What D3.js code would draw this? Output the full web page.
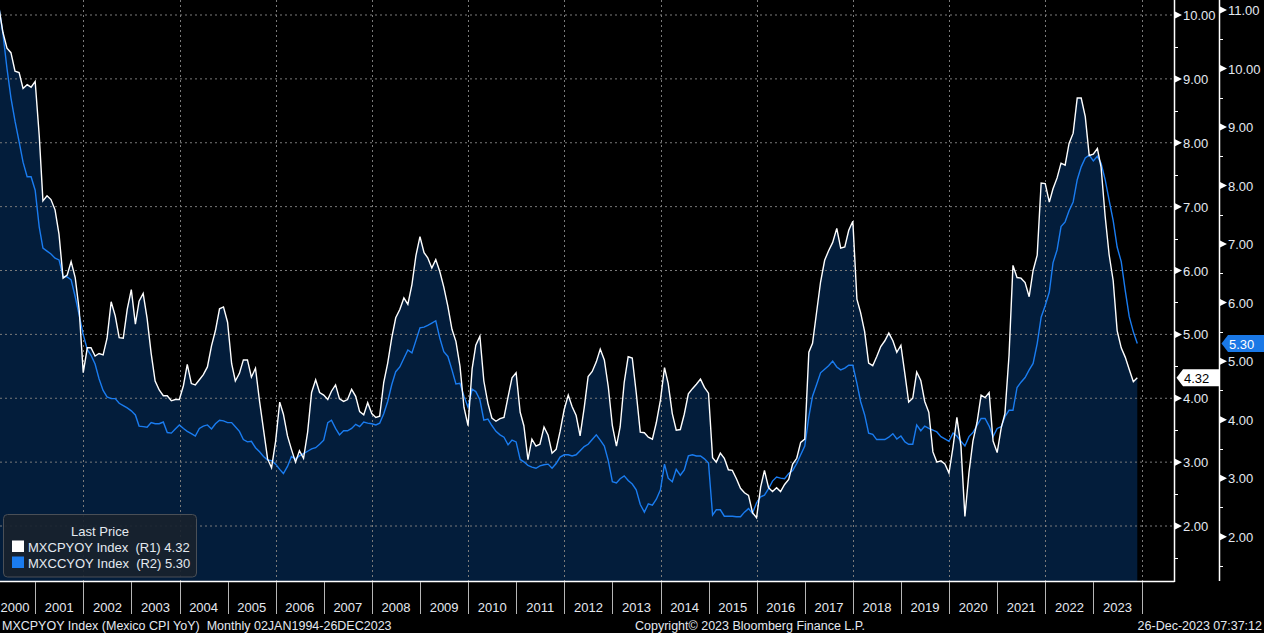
<!DOCTYPE html>
<html>
<head>
<meta charset="utf-8">
<script src="https://cdn.jsdelivr.net/npm/d3@7"></script>
<style>
  html, body { margin: 0; padding: 0; background: #000; overflow: hidden; }
  svg { display: block; }
  text { font-family: "Liberation Sans", Arial, sans-serif; }
</style>
</head>
<body>
<div id="chart"></div>
<script>
// Mexico CPI YoY (R1, white) and core CPI YoY (R2, blue), monthly Jan 2000 - Nov 2023
var startYear = 2000;
var headline = [
  11.02,10.52,10.11,9.73,9.48,9.41,9.12,9.10,8.85,8.91,8.87,8.96,
  8.11,7.09,7.17,7.11,6.95,6.57,5.88,5.93,6.14,5.89,5.39,4.40,
  4.79,4.79,4.66,4.70,4.68,4.94,5.51,5.29,4.95,4.94,5.39,5.70,
  5.16,5.52,5.64,5.25,4.70,4.27,4.13,4.04,4.04,3.96,3.98,3.98,
  4.20,4.53,4.23,4.21,4.29,4.37,4.49,4.82,5.06,5.40,5.43,5.19,
  4.54,4.27,4.39,4.60,4.60,4.33,4.47,3.95,3.51,3.05,2.91,3.33,
  3.94,3.75,3.41,3.20,3.00,3.18,3.06,3.47,4.09,4.29,4.09,4.05,
  3.98,4.11,4.21,3.99,3.95,3.98,4.14,4.03,3.79,3.74,3.93,3.76,
  3.70,3.72,4.25,4.55,4.95,5.26,5.39,5.57,5.47,5.78,6.23,6.53,
  6.28,6.20,6.04,6.17,5.98,5.74,5.44,5.08,4.89,4.50,3.86,3.57,
  4.46,4.83,4.97,4.27,3.92,3.69,3.64,3.68,3.70,4.02,4.32,4.40,
  3.78,3.57,3.04,3.36,3.25,3.28,3.55,3.42,3.14,3.20,3.48,3.82,
  4.05,3.87,3.73,3.41,3.85,4.34,4.42,4.57,4.77,4.60,4.18,3.57,
  3.25,3.55,4.25,4.65,4.63,4.09,3.47,3.46,3.39,3.36,3.62,3.97,
  4.48,4.23,3.76,3.50,3.51,3.75,4.07,4.15,4.22,4.30,4.17,4.08,
  3.07,3.00,3.14,3.06,2.88,2.87,2.74,2.59,2.52,2.48,2.21,2.13,
  2.61,2.87,2.60,2.54,2.60,2.54,2.65,2.73,2.97,3.06,3.31,3.36,
  4.72,4.86,5.35,5.82,6.16,6.31,6.44,6.66,6.35,6.37,6.63,6.77,
  5.55,5.34,5.04,4.55,4.51,4.65,4.81,4.90,5.02,4.90,4.72,4.83,
  4.37,3.94,4.00,4.41,4.28,3.95,3.78,3.16,3.00,3.02,2.97,2.83,
  3.24,3.70,3.25,2.15,2.84,3.33,3.62,4.05,4.01,4.09,3.33,3.15,
  3.54,3.76,4.67,6.08,5.89,5.88,5.81,5.59,6.00,6.24,7.37,7.36,
  7.07,7.28,7.45,7.68,7.65,7.99,8.15,8.70,8.70,8.41,7.80,7.82,
  7.91,7.62,6.85,6.25,5.84,5.06,4.79,4.64,4.45,4.26,4.32
];
var core = [
  11.70,11.35,11.05,10.60,10.00,9.50,9.10,8.75,8.40,8.15,8.15,7.92,
  7.29,6.93,6.88,6.83,6.76,6.73,6.45,6.44,6.39,6.10,5.79,5.45,
  5.20,5.10,4.95,4.70,4.50,4.39,4.36,4.36,4.28,4.24,4.20,4.15,
  4.08,3.89,3.88,3.87,3.95,3.93,3.93,3.96,3.78,3.77,3.84,3.91,
  3.85,3.80,3.76,3.72,3.85,3.89,3.91,3.84,3.93,3.99,3.98,3.95,
  3.95,3.88,3.80,3.66,3.62,3.63,3.52,3.45,3.37,3.31,3.30,3.24,
  3.15,3.08,3.20,3.37,3.33,3.38,3.42,3.46,3.50,3.52,3.58,3.65,
  3.95,3.99,3.85,3.74,3.81,3.81,3.85,3.92,3.88,3.96,3.94,3.93,
  3.91,3.94,4.10,4.31,4.60,4.82,4.90,5.05,5.19,5.14,5.35,5.57,
  5.58,5.61,5.65,5.69,5.39,5.16,5.08,4.85,4.61,4.62,4.40,4.21,
  4.52,4.48,4.34,3.99,4.01,3.90,3.80,3.74,3.70,3.57,3.65,3.62,
  3.32,3.28,3.22,3.19,3.17,3.21,3.23,3.24,3.17,3.25,3.36,3.40,
  3.40,3.38,3.40,3.47,3.54,3.58,3.66,3.74,3.65,3.55,3.30,2.94,
  2.92,2.99,3.04,2.96,2.90,2.80,2.55,2.42,2.56,2.54,2.64,2.80,
  3.24,3.00,2.94,3.15,3.05,3.14,3.38,3.40,3.38,3.38,3.33,3.26,
  2.37,2.46,2.46,2.35,2.35,2.35,2.34,2.34,2.42,2.48,2.40,2.58,
  2.68,2.71,2.82,2.95,3.02,3.00,2.99,3.08,3.13,3.25,3.40,3.55,
  4.05,4.40,4.60,4.80,4.86,4.92,5.00,4.90,4.85,4.88,4.93,4.93,
  4.62,4.31,4.08,3.77,3.75,3.66,3.66,3.66,3.70,3.76,3.67,3.72,
  3.62,3.58,3.58,3.91,3.81,3.89,3.85,3.82,3.79,3.71,3.67,3.63,
  3.77,3.72,3.63,3.55,3.71,3.78,3.90,4.02,4.02,3.89,3.71,3.85,
  3.88,4.05,4.16,4.16,4.55,4.64,4.72,4.85,4.96,5.30,5.75,5.95,
  6.18,6.68,6.90,7.30,7.38,7.57,7.72,8.10,8.32,8.47,8.52,8.42,
  8.50,8.38,8.10,7.75,7.40,6.95,6.70,6.20,5.76,5.50,5.30
];
var r1Ticks = [2, 3, 4, 5, 6, 7, 8, 9, 10];
var r2Ticks = [2, 3, 4, 5, 6, 7, 8, 9, 10, 11];
var yearLabels = d3.range(2000, 2024);
var legendRows = [
  { name: "MXCPYOY Index  (R1) 4.32", color: "#ffffff" },
  { name: "MXCCYOY Index  (R2) 5.30", color: "#1a7cf0" }
];

var width = 1264, height = 633;
var plotRight = 1174, plotBottom = 581, r2Axis = 1219;
var fillColor = "#031d3b", blueColor = "#1a7cf0", textColor = "#e4e9f0";

// monthly points are stamped at month end, like the terminal does
var months = headline.map(function (d, i) { return new Date(startYear, i + 1, 0); });

var x = d3.scaleTime()
    .domain([new Date(2000, 0, 1), new Date(2024, 0, 1)])
    .range([-12.9, 1141.5]);
var y1 = d3.scaleLinear().domain([2, 10]).range([526, 15]);
var y2 = d3.scaleLinear().domain([2, 11]).range([536.7, 10]);

var svg = d3.select("#chart").append("svg")
    .attr("width", width)
    .attr("height", height)
    .style("background", "#000");

svg.append("clipPath").attr("id", "plotclip")
  .append("rect").attr("x", 0).attr("y", 0).attr("width", plotRight).attr("height", plotBottom);

var plot = svg.append("g").attr("clip-path", "url(#plotclip)");

// area under the headline series
plot.append("path")
    .datum(headline)
    .attr("fill", fillColor)
    .attr("d", d3.area()
      .x(function (d, i) { return x(months[i]); })
      .y0(plotBottom)
      .y1(function (d) { return y1(d); }));

// dotted grid
plot.selectAll(".hgrid").data(r1Ticks).enter().append("line")
    .attr("x1", 0).attr("x2", plotRight)
    .attr("y1", function (d) { return y1(d); })
    .attr("y2", function (d) { return y1(d); })
    .attr("stroke", "#7a7a7a").attr("stroke-width", 1)
    .attr("stroke-dasharray", "2,3");

var gridYears = d3.range(2002, 2025, 2);
plot.selectAll(".vgrid").data(gridYears).enter().append("line")
    .attr("x1", function (d) { return Math.round(x(new Date(d, 0, 1))) + 0.5; })
    .attr("x2", function (d) { return Math.round(x(new Date(d, 0, 1))) + 0.5; })
    .attr("y1", 0).attr("y2", plotBottom)
    .attr("stroke", "#7a7a7a").attr("stroke-width", 1)
    .attr("stroke-dasharray", "2,3");

// series lines
plot.append("path")
    .datum(core)
    .attr("fill", "none")
    .attr("stroke", blueColor)
    .attr("stroke-width", 1.4)
    .attr("d", d3.line()
      .x(function (d, i) { return x(months[i]); })
      .y(function (d) { return y2(d); }));

plot.append("path")
    .datum(headline)
    .attr("fill", "none")
    .attr("stroke", "#ffffff")
    .attr("stroke-width", 1.4)
    .attr("d", d3.line()
      .x(function (d, i) { return x(months[i]); })
      .y(function (d) { return y1(d); }));

// frame: bottom line and the two right axes
svg.append("line").attr("x1", 0).attr("x2", plotRight + 0.5)
    .attr("y1", plotBottom + 0.5).attr("y2", plotBottom + 0.5)
    .attr("stroke", "#fff").attr("stroke-width", 1.5);
svg.append("line").attr("x1", plotRight + 0.5).attr("x2", plotRight + 0.5)
    .attr("y1", 0).attr("y2", plotBottom + 1)
    .attr("stroke", "#fff").attr("stroke-width", 1.5);
svg.append("line").attr("x1", r2Axis + 0.5).attr("x2", r2Axis + 0.5)
    .attr("y1", 0).attr("y2", plotBottom)
    .attr("stroke", "#fff").attr("stroke-width", 1.5);

function drawAxis(scale, ticks, ax, minorFrom, minorTo) {
  var g = svg.append("g");
  g.selectAll(".minor").data(d3.range(minorFrom, minorTo, 1)).enter().append("line")
      .attr("x1", ax).attr("x2", ax + 4)
      .attr("y1", function (d) { return Math.round(scale(d)) + 0.5; })
      .attr("y2", function (d) { return Math.round(scale(d)) + 0.5; })
      .attr("stroke", "#fff").attr("stroke-width", 1);
  g.selectAll(".tri").data(ticks).enter().append("path")
      .attr("d", function (d) {
        var yy = scale(d);
        return "M" + (ax + 1) + "," + (yy - 3.5) + "L" + (ax + 8) + "," + yy + "L" + (ax + 1) + "," + (yy + 3.5) + "Z";
      })
      .attr("fill", "#fff");
  g.selectAll(".lbl").data(ticks).enter().append("text")
      .attr("x", ax + 9)
      .attr("y", function (d) { return scale(d) + 5; })
      .attr("font-size", "13px")
      .attr("fill", textColor)
      .text(function (d) { return d3.format(".2f")(d); });
}
drawAxis(y1, r1Ticks, plotRight, 1.5, 10.5);
drawAxis(y2, r2Ticks, r2Axis, 1.5, 11);

// last price tags
function lastTag(yy, x0, x1, fill, txtFill, label) {
  svg.append("path")
      .attr("d", "M" + x0 + "," + yy + "L" + (x0 + 6.5) + "," + (yy - 8.5) + "L" + x1 + "," + (yy - 8.5) +
                 "L" + x1 + "," + (yy + 8.5) + "L" + (x0 + 6.5) + "," + (yy + 8.5) + "Z")
      .attr("fill", fill);
  svg.append("text")
      .attr("x", x0 + 7.5).attr("y", yy + 5)
      .attr("font-size", "13px")
      .attr("fill", txtFill)
      .text(label);
}
lastTag(y1(headline[headline.length - 1]), 1176.5, 1219, "#ffffff", "#000", d3.format(".2f")(headline[headline.length - 1]));
lastTag(y2(core[core.length - 1]), 1221.5, 1264, "#1a78e6", "#fff", d3.format(".2f")(core[core.length - 1]));

// year ticks and labels under the plot
svg.selectAll(".ytick").data(d3.range(2001, 2025)).enter().append("line")
    .attr("x1", function (d) { return Math.round(x(new Date(d, 0, 1))) + 0.5; })
    .attr("x2", function (d) { return Math.round(x(new Date(d, 0, 1))) + 0.5; })
    .attr("y1", plotBottom + 1).attr("y2", 614)
    .attr("stroke", "#b5b5b5").attr("stroke-width", 1);

svg.selectAll(".ylabel").data(yearLabels).enter().append("text")
    .attr("x", function (d) {
      var c = (x(new Date(d, 0, 1)) + x(new Date(d + 1, 0, 1))) / 2;
      return Math.max(c, 15);
    })
    .attr("y", 612)
    .attr("text-anchor", "middle")
    .attr("font-size", "13px")
    .attr("fill", textColor)
    .text(function (d) { return d; });

// footer
svg.append("text").attr("x", 2).attr("y", 630)
    .attr("font-size", "12.5px").attr("fill", textColor)
    .style("white-space", "pre")
    .text("MXCPYOY Index (Mexico CPI YoY)  Monthly 02JAN1994-26DEC2023");
svg.append("text").attr("x", 750).attr("y", 630)
    .attr("text-anchor", "middle")
    .attr("font-size", "12.5px").attr("fill", textColor)
    .text("Copyright\u00a9 2023 Bloomberg Finance L.P.");
svg.append("text").attr("x", 1262).attr("y", 630)
    .attr("text-anchor", "end")
    .attr("font-size", "12.5px").attr("fill", textColor)
    .text("26-Dec-2023 07:37:12");

// legend
var legend = svg.append("g");
legend.append("rect")
    .attr("x", 3.5).attr("y", 514.5).attr("width", 193).attr("height", 62.5)
    .attr("rx", 4)
    .attr("fill", "#18222e").attr("fill-opacity", 0.92)
    .attr("stroke", "#4a4f56").attr("stroke-width", 1);
legend.append("text")
    .attr("x", 100).attr("y", 536)
    .attr("text-anchor", "middle")
    .attr("font-size", "13px").attr("fill", textColor)
    .text("Last Price");
var rows = legend.selectAll(".row").data(legendRows).enter().append("g")
    .attr("transform", function (d, i) { return "translate(0," + (i * 16) + ")"; });
rows.append("rect")
    .attr("x", 12).attr("y", 540.5).attr("width", 12).attr("height", 11.5)
    .attr("fill", function (d) { return d.color; });
rows.append("text")
    .attr("x", 28).attr("y", 551.5)
    .attr("font-size", "13px").attr("fill", textColor)
    .style("white-space", "pre")
    .text(function (d) { return d.name; });
</script>
</body>
</html>
